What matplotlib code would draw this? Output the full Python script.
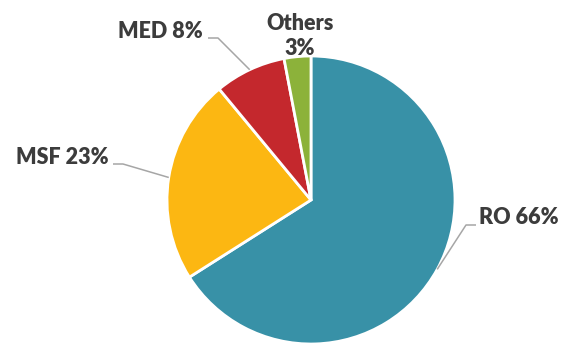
import matplotlib
matplotlib.use("Agg")
import matplotlib.pyplot as plt
import numpy as np

categories = ["RO", "MSF", "MED", "Others"]
values = [66, 23, 8, 3]
labels = ["RO 66%", "MSF 23%", "MED 8%", "Others\n3%"]
colors = ["#3891a7", "#fcb712", "#c4282d", "#8cb23a"]

W, H = 565, 345
fig = plt.figure(figsize=(W / 100, H / 100), dpi=100)
ax = fig.add_axes([0, 0, 1, 1])

cx, cy, r = 311, H - 200, 144
wedges, _ = ax.pie(values, colors=colors, startangle=90, counterclock=False,
                   center=(cx, cy), radius=r, frame=True,
                   wedgeprops=dict(edgecolor="white", linewidth=2))
ax.set_xlim(0, W)
ax.set_ylim(0, H)
ax.set_aspect("equal")
ax.axis("off")

txt = dict(fontfamily="Lato", fontweight="heavy", fontsize=15.5, color="#3c3c3c")
line_kw = dict(color="#a6a6a6", linewidth=1.1, solid_capstyle="butt")

# label anchors (pixel coords, y from top)
label_pos = {
    "RO": ((479, 217), "left", (466, 225), (476, 225)),
    "MSF": ((109, 158), "right", (123, 164), (113, 164)),
    "MED": ((203, 31), "right", (218, 38), (208, 38)),
}

for w, cat, lab in zip(wedges, categories, labels):
    mid = np.deg2rad((w.theta1 + w.theta2) / 2)
    ex, ey = cx + r * np.cos(mid), cy + r * np.sin(mid)
    if cat in label_pos:
        (tx, ty), ha, (bx, by), (sx, sy) = label_pos[cat]
        ax.text(tx, H - ty, lab, ha=ha, va="center", **txt)
        ax.plot([ex, bx, sx], [ey, H - by, H - sy], **line_kw)
    else:
        ax.text(300, H - 36, lab, ha="center", va="center",
                linespacing=1.25, **txt)

fig.savefig("out.png", dpi=100, facecolor="white")
